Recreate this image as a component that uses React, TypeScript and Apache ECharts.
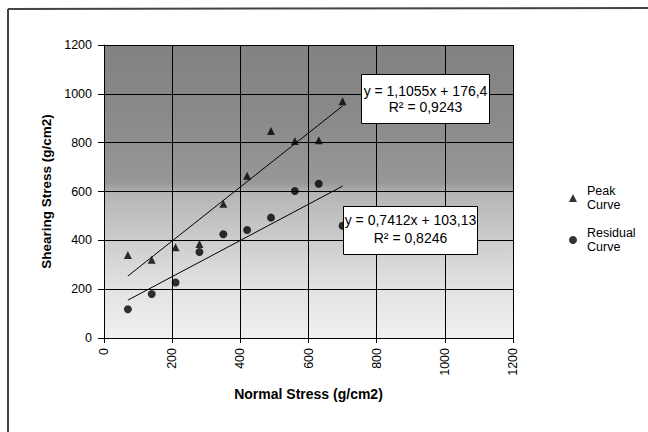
import React, { useEffect, useRef } from "react";
import * as echarts from "echarts";

const normalStress = [70, 140, 210, 280, 350, 420, 490, 560, 630, 700];
const peakShear = [340, 320, 372, 385, 550, 665, 848, 807, 810, 970];
const residualShear = [118, 180, 227, 352, 425, 442, 493, 602, 632, 460];
const peakFit = { slope: 1.1055, intercept: 176.4, r2: "0,9243", label: "y = 1,1055x + 176,4" };
const residualFit = { slope: 0.7412, intercept: 103.13, r2: "0,8246", label: "y = 0,7412x + 103,13" };
const axisTicks = [0, 200, 400, 600, 800, 1000, 1200];

const FONT = "'Liberation Sans', Arial, sans-serif";

function fitLine(fit: { slope: number; intercept: number }) {
  const xMin = Math.min(...normalStress);
  const xMax = Math.max(...normalStress);
  return [
    [xMin, fit.slope * xMin + fit.intercept],
    [xMax, fit.slope * xMax + fit.intercept],
  ];
}

export default function App() {
  const ref = useRef<HTMLDivElement>(null);
  useEffect(() => {
    if (!ref.current) return;
    const chart = echarts.init(ref.current, undefined, { renderer: "svg" });
    const axMin = axisTicks[0];
    const axMax = axisTicks[axisTicks.length - 1];
    const axInt = axisTicks[1] - axisTicks[0];
    const plain = (v: number) => String(v);
    const option: any = {
      animation: false,
      backgroundColor: "#ffffff",
      textStyle: { fontFamily: FONT, color: "#000" },
      grid: {
        left: 104,
        right: 135,
        top: 45,
        bottom: 94,
        show: true,
        borderWidth: 0,
        backgroundColor: {
          type: "linear",
          x: 0,
          y: 0,
          x2: 0,
          y2: 1,
          colorStops: [
            { offset: 0, color: "#828282" },
            { offset: 0.25, color: "#8a8a8a" },
            { offset: 0.47, color: "#989898" },
            { offset: 0.51, color: "#b6b6b6" },
            { offset: 0.67, color: "#cdcdcd" },
            { offset: 0.83, color: "#e2e2e2" },
            { offset: 1, color: "#f1f1f1" },
          ],
        },
      },
      xAxis: {
        type: "value",
        min: axMin,
        max: axMax,
        interval: axInt,
        name: "Normal Stress (g/cm2)",
        nameLocation: "middle",
        nameGap: 49,
        nameTextStyle: { fontFamily: FONT, fontSize: 14, fontWeight: "bold", color: "#000" },
        axisLine: { show: true, lineStyle: { color: "#000", width: 1 } },
        axisTick: { show: true, length: 5, lineStyle: { color: "#000" } },
        axisLabel: { rotate: 90, margin: 10, fontFamily: FONT, fontSize: 12.5, color: "#000", formatter: plain },
        splitLine: { show: true, lineStyle: { color: "#000", width: 1 } },
      },
      yAxis: {
        type: "value",
        min: axMin,
        max: axMax,
        interval: axInt,
        name: "Shearing Stress (g/cm2)",
        nameLocation: "middle",
        nameGap: 51,
        nameTextStyle: { fontFamily: FONT, fontSize: 13.5, fontWeight: "bold", color: "#000" },
        axisLine: { show: true, lineStyle: { color: "#000", width: 1 } },
        axisTick: { show: true, length: 6, lineStyle: { color: "#000" } },
        axisLabel: { margin: 12, fontFamily: FONT, fontSize: 12.5, color: "#000", formatter: plain },
        splitLine: { show: true, lineStyle: { color: "#000", width: 1 } },
      },
      legend: {
        orient: "vertical",
        left: 569,
        top: 177,
        padding: 0,
        itemGap: 0,
        itemWidth: 8,
        itemHeight: 8,
        data: ["Peak Curve", "Residual Curve"],
        formatter: (n: string) => n.replace(" ", "\n"),
        textStyle: {
          fontFamily: FONT,
          fontSize: 12.5,
          lineHeight: 14,
          color: "#000",
          padding: [14, 0, 0, 5],
        },
      },
      series: [
        {
          name: "Peak Curve",
          type: "scatter",
          symbol: "triangle",
          symbolSize: 8,
          itemStyle: { color: "#000" },
          data: normalStress.map((x, i) => [x, peakShear[i]]),
          z: 3,
        },
        {
          name: "Residual Curve",
          type: "scatter",
          symbol: "circle",
          symbolSize: 8,
          itemStyle: { color: "#000" },
          data: normalStress.map((x, i) => [x, residualShear[i]]),
          z: 3,
        },
        {
          name: "Peak fit",
          type: "line",
          symbol: "none",
          silent: true,
          lineStyle: { color: "#000", width: 1 },
          data: fitLine(peakFit),
          z: 2,
        },
        {
          name: "Residual fit",
          type: "line",
          symbol: "none",
          silent: true,
          lineStyle: { color: "#000", width: 1 },
          data: fitLine(residualFit),
          z: 2,
        },
      ],
      graphic: [
        {
          type: "line",
          z: 100,
          shape: { x1: 8, y1: 9, x2: 648, y2: 8 },
          style: { stroke: "#444", lineWidth: 2 },
        },
        {
          type: "line",
          z: 100,
          shape: { x1: 8, y1: 9, x2: 8, y2: 432 },
          style: { stroke: "#444", lineWidth: 2 },
        },
        {
          type: "group",
          z: 100,
          left: 361,
          top: 74,
          children: [
            {
              type: "rect",
              z: 100,
              shape: { x: 0, y: 0, width: 128, height: 49 },
              style: { fill: "#fff", stroke: "#000", lineWidth: 1 },
            },
            {
              type: "text",
              z: 101,
              x: 64,
              y: 24,
              style: {
                text: peakFit.label + "\nR² = " + peakFit.r2,
                fontFamily: FONT,
                fontSize: 14,
                lineHeight: 16,
                align: "center",
                verticalAlign: "middle",
                fill: "#000",
              },
            },
          ],
        },
        {
          type: "group",
          z: 100,
          left: 343,
          top: 206,
          children: [
            {
              type: "rect",
              z: 100,
              shape: { x: 0, y: 0, width: 134, height: 48 },
              style: { fill: "#fff", stroke: "#000", lineWidth: 1 },
            },
            {
              type: "text",
              z: 101,
              x: 67,
              y: 22,
              style: {
                text: residualFit.label + "\nR² = " + residualFit.r2,
                fontFamily: FONT,
                fontSize: 14,
                lineHeight: 18,
                align: "center",
                verticalAlign: "middle",
                fill: "#000",
              },
            },
          ],
        },
      ],
    };
    chart.setOption(option);
    return () => chart.dispose();
  }, []);
  return (
    <div
      ref={ref}
      style={{ position: "fixed", left: 0, top: 0, width: 648, height: 432 }}
    />
  );
}
